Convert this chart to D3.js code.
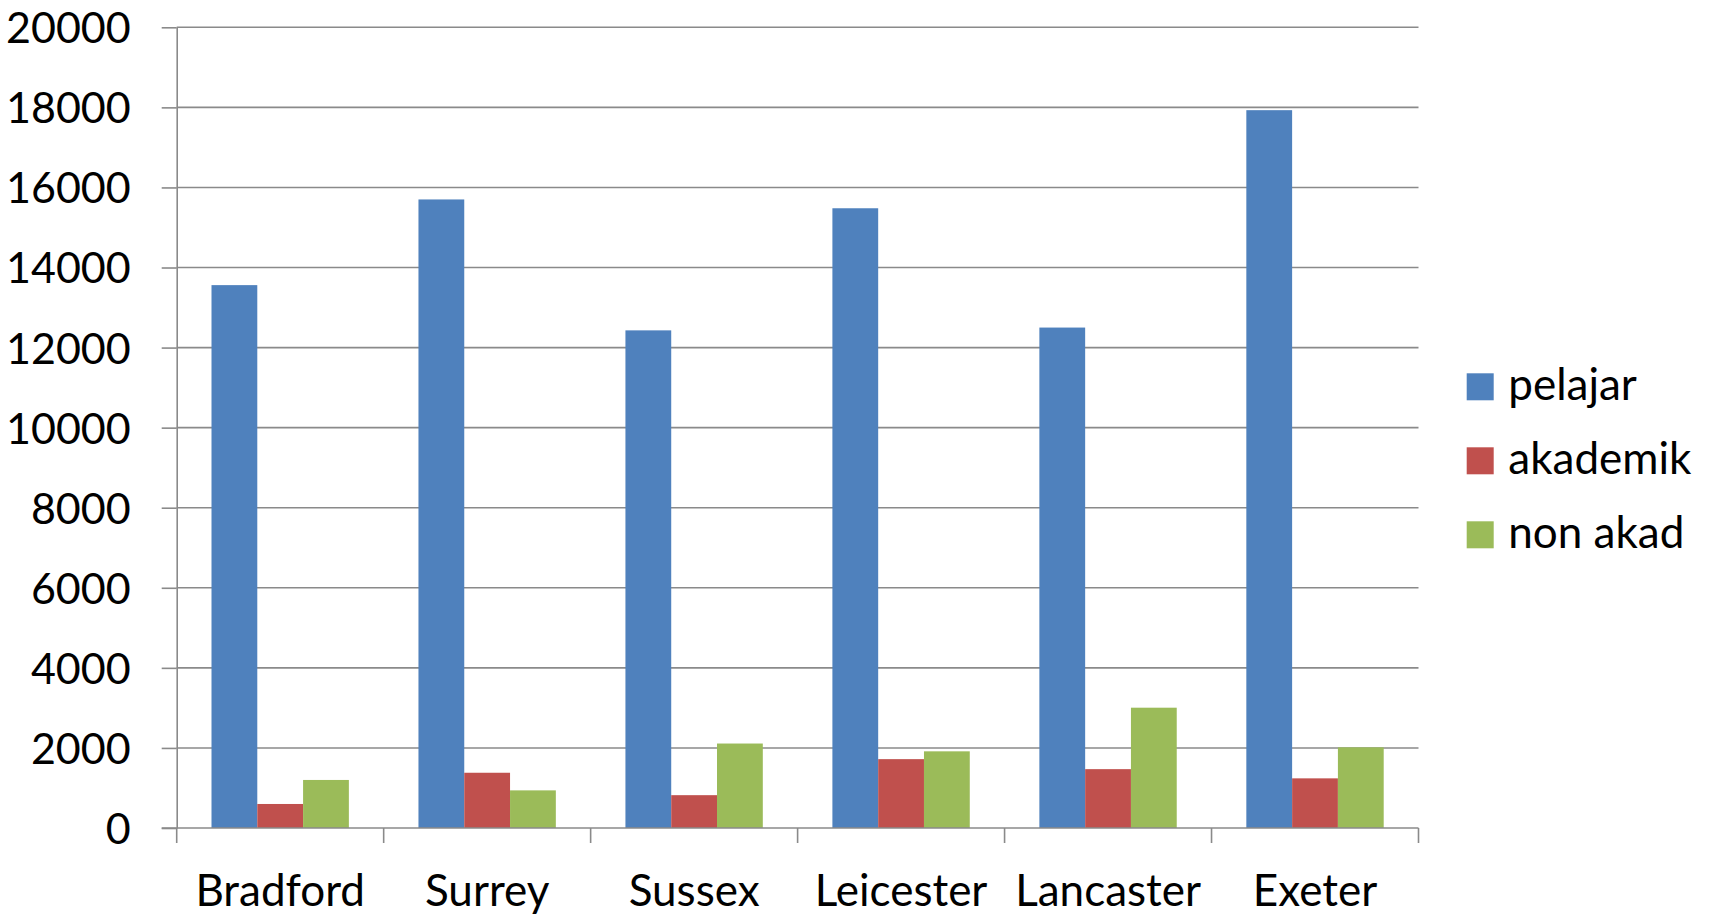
<!DOCTYPE html>
<html>
<head>
<meta charset="utf-8">
<script src="https://cdn.jsdelivr.net/npm/d3@7"></script>
<style>
  html, body { margin: 0; padding: 0; background: #fff; }
  svg { display: block; }
  svg text { font-family: Lato, "Open Sans", sans-serif; }
</style>
</head>
<body>
<svg id="chart" width="1713" height="915"></svg>
<script>
const categories = ["Bradford", "Surrey", "Sussex", "Leicester", "Lancaster", "Exeter"];
const seriesNames = ["pelajar", "akademik", "non akad"];
const pelajar = [13560, 15700, 12430, 15480, 12500, 17930];
const akademik = [600, 1380, 820, 1720, 1470, 1240];
const nonAkad = [1200, 940, 2110, 1915, 3005, 2015];
const seriesColors = ["#4F81BD", "#C0504D", "#9BBB59"];
const yTicks = [0, 2000, 4000, 6000, 8000, 10000, 12000, 14000, 16000, 18000, 20000];

const seriesValues = [pelajar, akademik, nonAkad];

const svg = d3.select("#chart");
const plotLeft = 176.7, plotRight = 1418.5, plotTop = 27.3, plotBottom = 828;
const gridColor = "#8a8a8a";
const fontFam = "Lato, 'Open Sans', sans-serif";

const x = d3.scaleBand().domain(categories).range([plotLeft, plotRight]).padding(0);
const xs = d3.scaleBand().domain(seriesNames).range([0, x.bandwidth()]).paddingInner(0).paddingOuter(0.76);
const y = d3.scaleLinear().domain([0, 20000]).range([plotBottom, plotTop]);

// gridlines
svg.append("g").selectAll("line").data(yTicks.filter(d => d > 0)).join("line")
  .attr("x1", plotLeft).attr("x2", plotRight)
  .attr("y1", d => y(d)).attr("y2", d => y(d))
  .attr("stroke", gridColor).attr("stroke-width", 1.6);

// bars
const groups = svg.append("g").selectAll("g").data(categories).join("g")
  .attr("transform", d => `translate(${x(d)},0)`);
groups.selectAll("rect")
  .data((c, i) => seriesNames.map((s, j) => ({ s, j, v: seriesValues[j][i] })))
  .join("rect")
  .attr("x", d => xs(d.s))
  .attr("width", xs.bandwidth())
  .attr("y", d => y(d.v))
  .attr("height", d => y(0) - y(d.v))
  .attr("fill", d => seriesColors[d.j]);

// y axis
const yAxis = svg.append("g").attr("transform", `translate(${plotLeft},0)`)
  .call(d3.axisLeft(y).tickValues(yTicks).tickSize(15).tickPadding(31).tickSizeOuter(0).tickFormat(d3.format("d")))
  .attr("font-family", fontFam);
yAxis.select(".domain").attr("stroke", gridColor).attr("stroke-width", 1.6);
yAxis.selectAll(".tick line").attr("stroke", gridColor).attr("stroke-width", 1.6);
yAxis.selectAll(".tick text").attr("fill", "#000").style("font-size", "43px").attr("dy", "0.36em");

// x axis
const xAxis = svg.append("g").attr("transform", `translate(0,${plotBottom})`)
  .call(d3.axisBottom(x).tickSize(0).tickSizeOuter(0))
  .attr("font-family", fontFam);
xAxis.select(".domain").remove();
xAxis.selectAll(".tick text").attr("fill", "#000").style("font-size", "44px")
  .attr("y", 905.7 - plotBottom).attr("dy", 0);
svg.append("line").attr("x1", plotLeft - 15).attr("x2", plotRight)
  .attr("y1", plotBottom).attr("y2", plotBottom)
  .attr("stroke", gridColor).attr("stroke-width", 1.6);
const bounds = categories.map(c => x(c)).concat([x(categories[categories.length - 1]) + x.bandwidth()]);
svg.append("g").selectAll("line").data(bounds).join("line")
  .attr("x1", d => d).attr("x2", d => d)
  .attr("y1", plotBottom).attr("y2", plotBottom + 15)
  .attr("stroke", gridColor).attr("stroke-width", 1.6);

// legend
const legend = svg.append("g").attr("transform", "translate(1466.7,373.3)");
const li = legend.selectAll("g").data(seriesNames).join("g")
  .attr("transform", (d, i) => `translate(0,${i * 74})`);
li.append("rect").attr("width", 27).attr("height", 27).attr("fill", (d, i) => seriesColors[i]);
li.append("text").attr("x", 41.6).attr("y", 27).text(d => d)
  .style("font-size", "44px").attr("fill", "#000");
</script>
</body>
</html>
